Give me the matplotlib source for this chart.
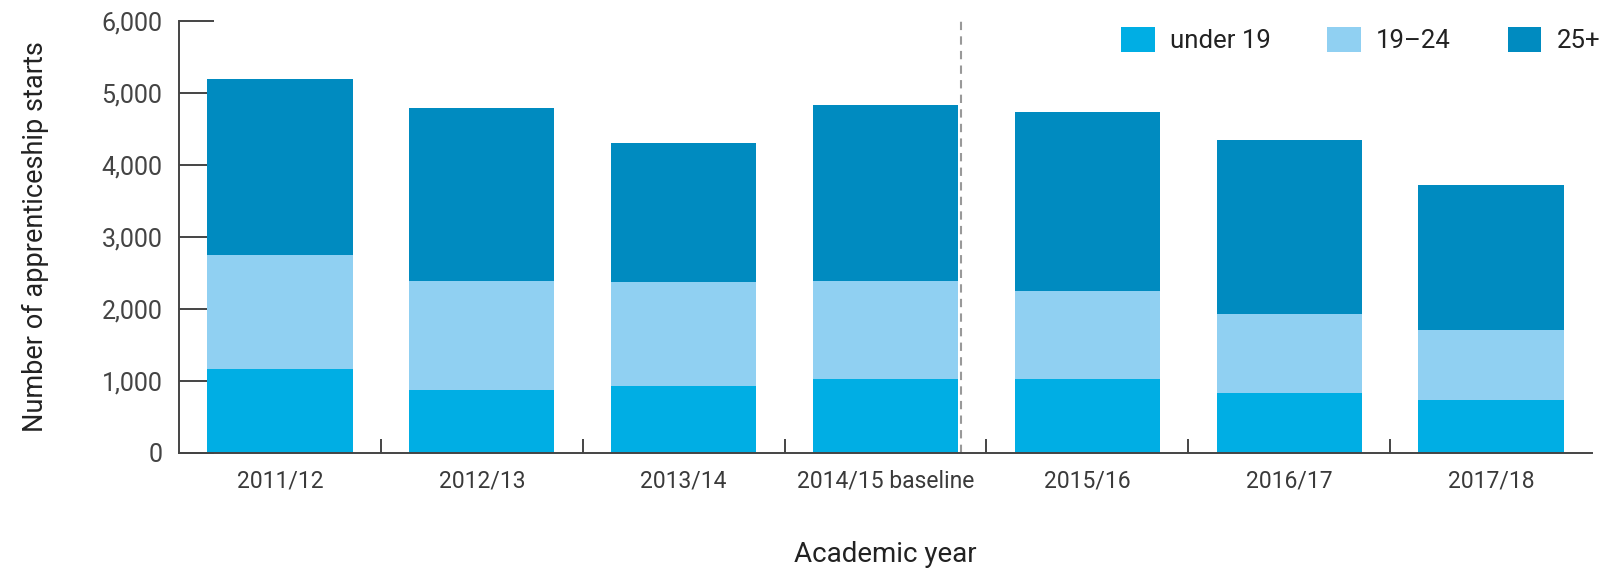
import numpy as np
import matplotlib.pyplot as plt

plt.rcParams['font.family'] = ['Roboto', 'DejaVu Sans']

# datos
years = ['2011/12', '2012/13', '2013/14', '2014/15 baseline', '2015/16', '2016/17', '2017/18']
under19 = [1160, 875, 935, 1030, 1030, 835, 735]
age19_24 = [1590, 1510, 1435, 1360, 1220, 1095, 970]
age25 = [2440, 2410, 1935, 2440, 2485, 2415, 2015]
labels = ['under 19', '19\u201324', '25+']
colors = ['#00aee4', '#90d0f2', '#008bc0']

fig = plt.figure(figsize=(16.21, 5.68), dpi=100)
ax = fig.add_axes([179/1621, 1-453/568, (1592-179)/1621, (453-20.7)/568])

x = np.arange(len(years))
w = 0.72
b1 = np.array(under19)
b2 = b1 + np.array(age19_24)
ax.bar(x, under19, w, color=colors[0], label=labels[0])
ax.bar(x, age19_24, w, bottom=b1, color=colors[1], label=labels[1])
ax.bar(x, age25, w, bottom=b2, color=colors[2], label=labels[2])

# linea de referencia (baseline)
ax.axvline(3.373, color='#999999', lw=1.5, ls=(0, (4, 3)), zorder=0.8)

ax.set_xlim(-0.5, 6.5)
ax.set_ylim(0, 6000)
ax.set_axisbelow(True)
ax.set_yticks(range(0, 6001, 1000))
ax.set_yticklabels([f'{v:,}' for v in range(0, 6001, 1000)])
ax.set_xticks(x)
ax.set_xticklabels(years)
ax.set_xticks(np.arange(0.5, 6, 1), minor=True)

for s in ['top', 'right']:
    ax.spines[s].set_visible(False)
for s in ['left', 'bottom']:
    ax.spines[s].set_color('#444444')
    ax.spines[s].set_linewidth(1.4)

ax.tick_params(axis='y', direction='in', length=25, width=1.4, color='#444444',
               labelsize=18, labelcolor='#444444', pad=12)
ax.tick_params(axis='x', which='major', length=0, labelsize=16.5, labelcolor='#3a3a3a', pad=12)
ax.tick_params(axis='x', which='minor', direction='in', length=10, width=1.4, color='#444444')

ax.set_ylabel('Number of apprenticeship starts', fontsize=19.5, color='#222222', labelpad=38)
ax.set_xlabel('Academic year', fontsize=20, color='#222222', labelpad=35)

ax.legend(loc='upper right', bbox_to_anchor=(1.013, 1.01), ncol=3, frameon=False,
          fontsize=18.5, handlelength=1.3, handleheight=1.15, handletextpad=0.6,
          columnspacing=2.2, borderaxespad=0, labelcolor='#222222')

fig.savefig('out.png', dpi=100)
